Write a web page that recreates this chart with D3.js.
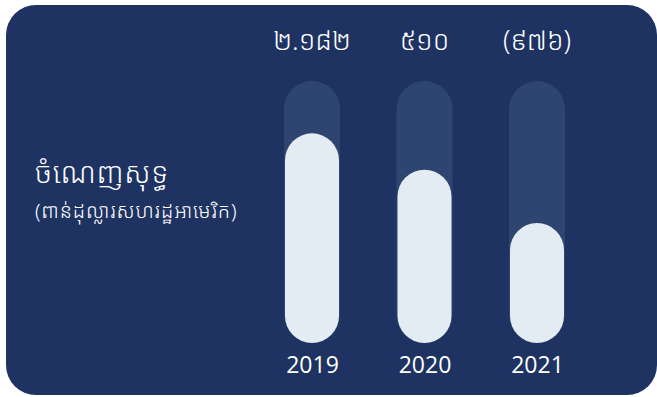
<!DOCTYPE html>
<html>
<head>
<meta charset="utf-8">
<script src="https://cdn.jsdelivr.net/npm/d3@7"></script>
<style>
  html, body { margin: 0; padding: 0; background: #ffffff; }
  text { font-family: "Noto Sans Khmer", "Noto Sans", "Open Sans", sans-serif; font-weight: 300; }
</style>
</head>
<body>
<div id="chart"></div>
<script>
// Data
const years = ['2019', '2020', '2021']
const values = [2182, 510, -976]   // net profit, thousand USD
const title = 'ចំណេញសុទ្ធ'
const subtitle = '(ពាន់ដុល្លារសហរដ្ឋអាមេរិក)'

const khmerDigits = ['០', '១', '២', '៣', '៤', '៥', '៦', '៧', '៨', '៩']
// 2182 -> ២.១៨២ , negatives in brackets
const fmtKhmer = v => {
  const s = d3.format(',')(Math.abs(v)).replace(/,/g, '.')
    .replace(/[0-9]/g, c => khmerDigits[+c])
  return v < 0 ? `(${s})` : s
}

// Dimensions
const dimensions = { width: 657, height: 397 }

const svg = d3.select('#chart')
  .append('svg')
  .attr('width', dimensions.width)
  .attr('height', dimensions.height)

// card background
svg.append('rect')
  .attr('x', 6)
  .attr('y', 5)
  .attr('width', 651)
  .attr('height', 390)
  .attr('rx', 30)
  .attr('fill', '#1e3361')

// Scales
const xScale = d3.scalePoint()
  .domain(years)
  .range([312, 537])

// symlog keeps the loss year visible while the big year stays in the track
const yScale = d3.scaleSymlog()
  .constant(1000)
  .domain([-22100, 8300])
  .range([343, 81])

const trackW = 56
const barW = 54

// tracks
svg.append('g')
  .selectAll('rect')
  .data(years)
  .join('rect')
  .attr('x', d => xScale(d) - trackW / 2)
  .attr('y', yScale(yScale.domain()[1]))
  .attr('width', trackW)
  .attr('height', yScale.range()[0] - yScale(yScale.domain()[1]))
  .attr('rx', trackW / 2)
  .attr('fill', '#2e4571')

// bars
svg.append('g')
  .selectAll('rect')
  .data(values)
  .join('rect')
  .attr('x', (d, i) => xScale(years[i]) - barW / 2)
  .attr('y', d => yScale(d))
  .attr('width', barW)
  .attr('height', d => yScale.range()[0] - yScale(d))
  .attr('rx', barW / 2)
  .attr('fill', '#e3ebf3')

// value labels
svg.append('g')
  .selectAll('text')
  .data(values)
  .join('text')
  .attr('x', (d, i) => xScale(years[i]))
  .attr('y', 50)
  .attr('text-anchor', 'middle')
  .attr('fill', '#ffffff')
  .style('font-size', '27px')
  .text(fmtKhmer)

// year axis
const xAxis = d3.axisBottom(xScale).tickSize(0).tickPadding(0)
const xAxisGroup = svg.append('g')
  .attr('transform', 'translate(0, 357)')
  .call(xAxis)
xAxisGroup.select('.domain').remove()
xAxisGroup.selectAll('text')
  .attr('dy', '0.71em')
  .attr('fill', '#ffffff')
  .style('font-family', '"Open Sans", sans-serif')
  .style('font-weight', 400)
  .style('font-size', '23px')

// title
svg.append('text')
  .attr('x', 35)
  .attr('y', 183)
  .attr('fill', '#ffffff')
  .style('font-size', '29px')
  .style('letter-spacing', '0.6px')
  .text(title)

svg.append('text')
  .attr('x', 35)
  .attr('y', 218)
  .attr('fill', '#ffffff')
  .style('font-size', '20px')
  .style('letter-spacing', '0.8px')
  .text(subtitle)
</script>
</body>
</html>
